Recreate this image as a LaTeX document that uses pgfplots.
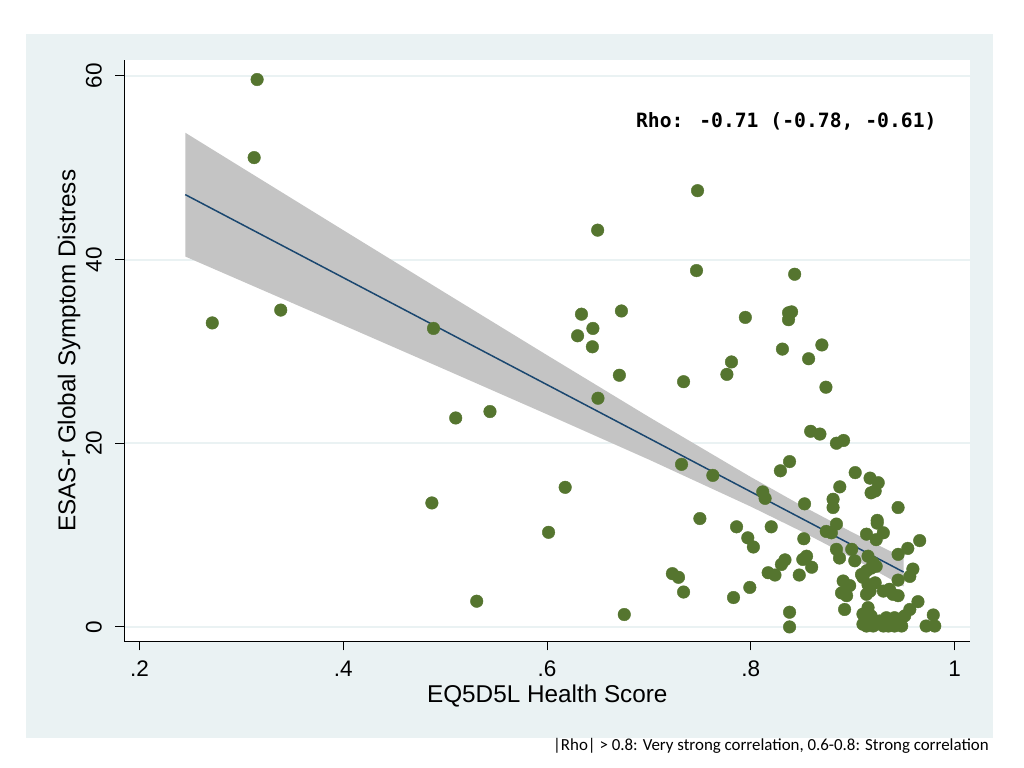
\documentclass[border=0pt]{standalone}
\usepackage{fontspec}
\setmainfont{Liberation Sans}
\newfontfamily\rhofont{DejaVu Sans Mono}
\newfontfamily\footfont{Carlito}
\usepackage{pgfplots}
\usepackage{pgfplotstable}
\pgfplotsset{compat=1.18}

\definecolor{gbg}{RGB}{234,242,243}
\definecolor{stgreen}{RGB}{85,117,47}
\definecolor{stnavy}{RGB}{26,71,111}
\definecolor{bandgray}{RGB}{196,196,196}

% EQ5D5L score vs ESAS-r total
\pgfplotstableread{
x y
0.3155 59.6
0.3126 51.1
0.2715 33.1
0.3387 34.5
0.4886 32.5
0.5104 22.75
0.544 23.45
0.487 13.5
0.531 2.8
0.6015 10.3
0.6178 15.2
0.6497 43.2
0.6338 34.05
0.673 34.4
0.645 32.5
0.630 31.7
0.6445 30.5
0.671 27.4
0.650 24.9
0.6758 1.35
0.7477 47.5
0.7467 38.8
0.734 26.7
0.732 17.7
0.7627 16.5
0.75 11.8
0.723 5.8
0.729 5.4
0.734 3.8
0.7946 33.7
0.781 28.85
0.7765 27.5
0.786 10.9
0.797 9.7
0.8025 8.7
0.799 4.3
0.783 3.2
0.843 38.4
0.837 34.2
0.840 34.3
0.837 33.45
0.831 30.25
0.8697 30.7
0.8567 29.2
0.8737 26.1
0.8587 21.3
0.8678 21.0
0.884 20.0
0.891 20.3
0.838 18.0
0.829 17.0
0.8117 14.7
0.814 14.0
0.8527 13.4
0.8807 13.9
0.8807 13.0
0.820 10.9
0.852 9.6
0.8335 7.3
0.830 6.8
0.817 5.9
0.8237 5.65
0.8547 7.7
0.851 7.35
0.8597 6.5
0.8475 5.65
0.838 1.6
0.838 0.0
0.874 10.4
0.879 10.25
0.884 11.2
0.9024 16.8
0.8873 15.25
0.917 16.2
0.925 15.7
0.918 14.6
0.922 14.8
0.9445 13.0
0.924 11.6
0.924 11.3
0.9135 10.1
0.930 10.25
0.923 9.5
0.9657 9.4
0.954 8.55
0.9445 7.9
0.884 8.45
0.887 7.5
0.899 8.45
0.902 7.2
0.915 7.7
0.920 7.0
0.923 6.6
0.918 6.4
0.9086 5.7
0.9135 6.1
0.910 5.4
0.959 6.3
0.956 5.5
0.9445 5.1
0.8906 5.0
0.897 4.5
0.889 3.7
0.894 3.4
0.915 4.6
0.922 4.8
0.9135 3.55
0.917 3.9
0.930 3.9
0.936 4.1
0.9395 3.55
0.9445 3.4
0.892 1.9
0.964 2.75
0.956 1.9
0.951 1.2
0.946 0.84
0.915 2.1
0.910 1.4
0.918 1.2
0.933 1.0
0.941 1.0
0.979 1.3
0.972 0.1
0.9805 0.1
0.910 0.3
0.9265 0.65
0.9135 0.1
0.920 0.1
0.930 0.1
0.935 0.1
0.941 0.1
0.948 0.1
}\pts

\begin{document}
\begin{tikzpicture}[x=1bp,y=1bp]
\fill[white] (0,0) rectangle (1024,768);
\fill[gbg] (26,30) rectangle (993,734);
\begin{axis}[
  at={(122,138)}, anchor=south west,
  scale only axis, width=846bp, height=581bp,
  xmin=0.1852, xmax=1.0154, ymin=-1.56, ymax=61.7,
  axis background/.style={fill=white},
  axis x line*=bottom, axis y line*=left,
  axis line style={black, line width=0.9bp, -},
  every tick/.style={black, line width=0.9bp},
  tick align=outside, major tick length=9bp,
  xtick={0.2,0.4,0.6,0.8,1}, xticklabels={.2,.4,.6,.8,1},
  ytick={0,20,40,60},
  ymajorgrids, major grid style={gbg, line width=2bp},
  /pgf/number format/assume math mode=true,
  ticklabel style={font=\fontsize{22.5bp}{27bp}\selectfont},
  xticklabel style={yshift=-7bp},
  yticklabel style={rotate=90, anchor=south, yshift=10bp},
  xlabel={EQ5D5L Health Score},
  ylabel={ESAS-r Global Symptom Distress},
  label style={font=\fontsize{24.3bp}{29bp}\selectfont},
  xlabel style={at={(axis description cs:0.5,0)}, anchor=base, yshift=-61bp},
  ylabel style={at={(axis description cs:0,0.5)}, anchor=base, yshift=49bp},
  clip=false,
]
% 95% CI of the linear fit
\addplot[fill=bandgray, draw=none] coordinates {
  (0.245,53.81) (0.3,50.04) (0.4,43.20) (0.5,36.38) (0.6,29.59)
  (0.7,22.86) (0.8,16.32) (0.85,13.20) (0.9,10.27) (0.95,7.53)
  (0.95,4.41) (0.9,7.49) (0.85,10.38) (0.8,13.10) (0.7,18.22)
  (0.6,23.15) (0.5,28.02) (0.4,32.86) (0.3,37.68) (0.245,40.33)
} -- cycle;
\addplot[stnavy, line width=1.5bp] coordinates {(0.245,47.07) (0.95,5.97)};
\addplot[only marks, mark=*, mark size=6.3bp, stgreen, mark options={fill=stgreen, draw=stgreen}] table {\pts};
\node[anchor=base, font=\rhofont\bfseries\fontsize{19.7bp}{24bp}\selectfont] at (axis cs:0.8348,54.43) {Rho: -0.71 (-0.78, -0.61)};
\end{axis}
\node[anchor=base west, font=\footfont\fontsize{16.9bp}{20bp}\selectfont, inner sep=0pt] at (553,17) {|Rho| > 0.8: Very strong correlation, 0.6-0.8: Strong correlation};
\end{tikzpicture}
\end{document}
